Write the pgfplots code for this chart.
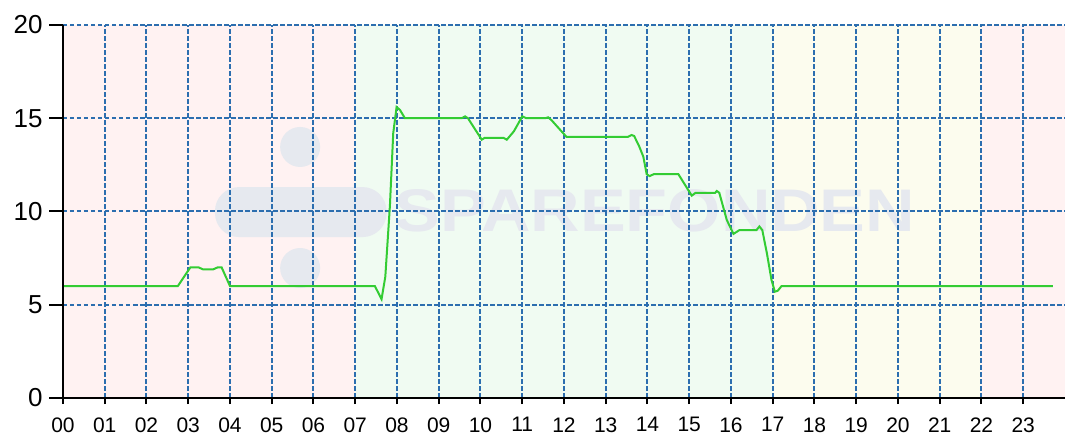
\documentclass[border=0pt]{standalone}
\usepackage{fontspec}
\setmainfont{Liberation Sans}
\usepackage{graphicx}
\usepackage{pgfplots}
\pgfplotsset{compat=1.18}
\definecolor{gridblue}{RGB}{44,110,175}
\definecolor{pinkbg}{RGB}{255,242,242}
\definecolor{greenbg}{RGB}{240,251,242}
\definecolor{yellowbg}{RGB}{252,252,238}
\definecolor{wmcol}{RGB}{230,233,239}
\definecolor{linegreen}{RGB}{51,204,51}
\pgfplotsset{base/.style={
  scale only axis, width=1002pt, height=373pt,
  at={(0,0)}, anchor=south west,
  xmin=0, xmax=24, ymin=0, ymax=20}}
\begin{document}
\begin{tikzpicture}
\begin{axis}[
  base,
  axis on top,
  axis lines*=left,
  axis line style={draw=black, line width=2pt, -},
  xtick={0,...,23},
  xticklabels={00,01,02,03,04,05,06,07,08,09,10,11,12,13,14,15,16,17,18,19,20,21,22,23},
  ytick={0,5,10,15,20},
  grid=major,
  major grid style={draw=gridblue, line width=2pt, dash pattern=on 4.5pt off 2.5pt},
  tick align=outside,
  major tick length=6pt,
  major tick style={draw=black, line width=2pt},
  /pgf/number format/assume math mode=true,
  yticklabel style={font=\fontsize{26}{30}\selectfont, xshift=-11pt},
  xticklabel style={font=\fontsize{21}{24}\selectfont, yshift=-10pt},
]
\addplot[fill=pinkbg, draw=none] coordinates {(0,20) (7,20)} \closedcycle;
\addplot[fill=greenbg, draw=none] coordinates {(7,20) (17,20)} \closedcycle;
\addplot[fill=yellowbg, draw=none] coordinates {(17,20) (22,20)} \closedcycle;
\addplot[fill=pinkbg, draw=none] coordinates {(22,20) (24,20)} \closedcycle;
\fill[wmcol] (axis cs:5.68,13.46) circle [radius=20pt];
\fill[wmcol] (axis cs:5.68,6.97) circle [radius=20pt];
\fill[wmcol, rounded corners=24pt] (axis cs:3.64,8.63) rectangle (axis cs:7.75,11.31);
\node[wmcol, inner sep=0pt] at (axis cs:14.18,10.03) {\resizebox{520pt}{42pt}{\bfseries SPAREFONDEN}};
\end{axis}
\begin{axis}[base, hide axis, clip=false]
\addplot[linegreen, line width=2pt, mark=none] coordinates {
(0,6) (2.75,6) (3.05,7) (3.25,7) (3.35,6.9) (3.6,6.9) (3.7,7) (3.8,7) (4.0,6)
(7.47,6) (7.63,5.3) (7.72,6.5) (7.83,10.3) (7.91,14.2) (7.99,15.6) (8.07,15.45) (8.19,15)
(9.55,15) (9.63,15.1) (9.7,15) (10.03,13.85) (10.1,13.95) (10.55,13.95) (10.63,13.85)
(10.8,14.3) (11.0,15.1) (11.1,15) (11.55,15) (11.62,15.05) (11.7,14.9) (12.06,14)
(13.53,14) (13.62,14.1) (13.68,14.05) (13.8,13.5) (13.9,12.94) (13.98,12.0) (14.05,11.9)
(14.15,12) (14.74,12) (15.06,10.85) (15.15,11.0) (15.62,11.0) (15.66,11.1) (15.72,11.0)
(15.9,9.54) (16.06,8.8) (16.2,9.0) (16.61,9.0) (16.68,9.2) (16.75,9.0) (16.86,7.76)
(16.97,6.33) (17.05,5.7) (17.12,5.75) (17.21,6) (23.71,6)
};
\pgfplotsinvokeforeach{0,5,10,15,20}{
  \draw[black, line width=2pt] (axis cs:0,#1) -- ++(-14pt,0);
}
\draw[black, line width=2.2pt] (axis cs:0,20) -- (axis cs:0,0) -- (axis cs:24,0);
\end{axis}
\pgfresetboundingbox
\path[use as bounding box] (-63pt,-41pt) rectangle (1003pt,398pt);
\end{tikzpicture}
\end{document}
